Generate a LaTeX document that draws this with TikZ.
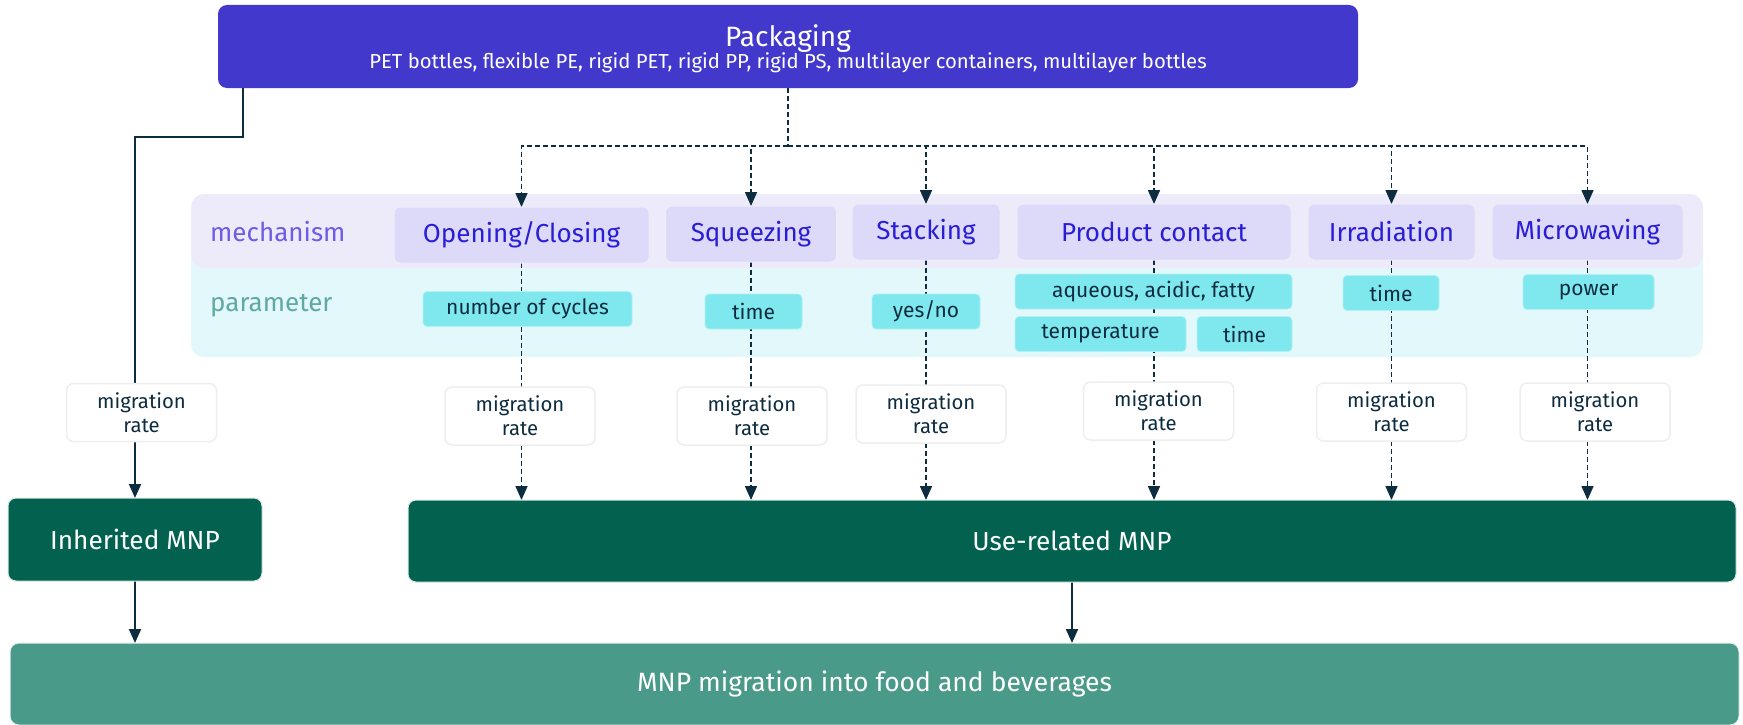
\documentclass[tikz,border=0pt]{standalone}
\usepackage{fontspec}
\setmainfont{Fira Sans}
\usetikzlibrary{arrows.meta}
\definecolor{pkgc}{HTML}{4239CC}
\definecolor{mechband}{HTML}{EDEBFA}
\definecolor{mechbox}{HTML}{DCDAF8}
\definecolor{mechtext}{HTML}{2A1DD6}
\definecolor{mechlabel}{HTML}{6C5CE6}
\definecolor{parband}{HTML}{E2F8FA}
\definecolor{parbox}{HTML}{7EE8EE}
\definecolor{parlabel}{HTML}{5FA8A6}
\definecolor{ink}{HTML}{0E2C3F}
\definecolor{dgreen}{HTML}{02624F}
\definecolor{lgreen}{HTML}{4A9A89}
\definecolor{mrborder}{HTML}{EEEEEE}
\pgfdeclarelayer{bandlayer}
\pgfdeclarelayer{linelayer}
\pgfsetlayers{bandlayer,linelayer,main}
\begin{document}
\begin{tikzpicture}[x=1pt,y=-1pt,
 box/.style={inner sep=0pt, outer sep=0pt, anchor=center},
 pkgbox/.style={box, fill=pkgc, rounded corners=9pt},
 bandbx/.style={box, rounded corners=13pt},
 mechbx/.style={box, fill=mechbox, draw=white!50!mechbox, line width=1pt, rounded corners=6pt, text=mechtext, minimum height=56pt, font=\fontsize{26}{30}\selectfont},
 parbx/.style={box, fill=parbox, draw=white!40!parbox, line width=0.8pt, rounded corners=4pt, text=ink, minimum height=35pt, font=\fontsize{21}{24}\selectfont},
 mrbx/.style={box, fill=white, draw=mrborder, line width=1.5pt, rounded corners=7pt, text=ink, align=center, minimum width=150pt, minimum height=58pt, font=\fontsize{20.3}{24}\selectfont},
 greenbx/.style={box, fill=dgreen, draw=white!85!dgreen, line width=1pt, rounded corners=8pt, text=white, font=\fontsize{26.2}{30}\selectfont},
 botbx/.style={box, fill=lgreen, draw=white!85!lgreen, line width=1pt, rounded corners=9pt, text=white, font=\fontsize{26.5}{30}\selectfont},
 bandlabel/.style={anchor=west, inner sep=0pt, font=\fontsize{26}{30}\selectfont},
 conn/.style={draw=ink, line width=2pt},
 dconn/.style={draw=ink, line width=1.6pt, dash pattern=on 5pt off 3pt},
 tip/.style={-{Triangle[length=14pt,width=12pt]}}
]
\useasboundingbox (0,0) rectangle (1743,725);
% top box
\node[pkgbox, minimum width=1140pt, minimum height=83pt] (pkg) at (788,46.5) {};
\node[anchor=base, inner sep=0pt, text=white, font=\fontsize{28}{30}\selectfont] (pkgtitle) at (788,46.5) {Packaging};
\node[anchor=base, inner sep=0pt, text=white, font=\fontsize{20.3}{24}\selectfont] (pkgsub) at (788,69) {PET bottles, flexible PE, rigid PET, rigid PP, rigid PS, multilayer containers, multilayer bottles};
% bands
\begin{pgfonlayer}{bandlayer}
\node[bandbx, fill=parband, minimum width=1512pt, minimum height=120pt] (parband) at (947,297) {};
\node[bandbx, fill=mechband, minimum width=1512pt, minimum height=74pt] (mechband) at (947,231) {};
\end{pgfonlayer}
\node[bandlabel, text=mechlabel] (mlab) at (210,232) {mechanism};
\node[bandlabel, text=parlabel] (plab) at (210,306) {parameter};
% mechanism boxes
\node[mechbx, minimum width=255pt] (m1) at (521.5,235) {Opening/Closing};
\node[mechbx, minimum width=171pt] (m2) at (751,234) {Squeezing};
\node[mechbx, minimum width=148pt] (m3) at (926,232) {Stacking};
\node[mechbx, minimum width=274pt] (m4) at (1154,232) {Product contact};
\node[mechbx, minimum width=167pt] (m5) at (1391.5,232) {Irradiation};
\node[mechbx, minimum width=191pt] (m6) at (1587.5,232) {Microwaving};
% parameter boxes
\node[parbx, minimum width=209pt] (p1) at (527.5,309) {number of cycles};
\node[parbx, minimum width=97pt] (p2) at (753.5,311.5) {time};
\node[parbx, minimum width=108pt] (p3) at (926,311.5) {yes/no};
\node[parbx, minimum width=277pt] (p4a) at (1153.5,291.5) {aqueous, acidic, fatty};
\node[parbx, minimum width=171pt] (p4b) at (1100.5,334) {temperature};
\node[parbx, minimum width=95pt] (p4c) at (1244.5,334) {time};
\node[parbx, minimum width=96pt] (p5) at (1391,293) {time};
\node[parbx, minimum width=131pt] (p6) at (1588.5,292) {power};
% migration rate boxes
\node[mrbx] (r0) at (141.5,412.5) {migration\\rate};
\node[mrbx] (r1) at (520,416) {migration\\rate};
\node[mrbx] (r2) at (752,416) {migration\\rate};
\node[mrbx] (r3) at (931,414) {migration\\rate};
\node[mrbx] (r4) at (1158.5,411) {migration\\rate};
\node[mrbx] (r5) at (1391.5,412) {migration\\rate};
\node[mrbx] (r6) at (1595,412) {migration\\rate};
% green boxes
\node[greenbx, minimum width=254pt, minimum height=83pt] (inh) at (135,539.5) {Inherited MNP};
\node[greenbx, minimum width=1328pt, minimum height=82pt] (use) at (1072,541) {Use-related MNP};
\node[botbx, minimum width=1729pt, minimum height=82pt] (bot) at (874.5,684) {MNP migration into food and beverages};
% connectors
\coordinate (bus) at (788,146);
\coordinate (k1) at (243,137);
\begin{pgfonlayer}{linelayer}
\draw[conn] (pkg.south -| k1) -- (k1) -| (inh.north |- r0.north);
\draw[conn, tip] (inh.north |- r0.south) -- (inh.north);
\draw[conn, tip] (inh.south) -- (inh.south |- bot.north);
\draw[conn, tip] (use.south) -- (use.south |- bot.north);
\draw[dconn] (pkg.south) -- (bus);
\foreach \m in {m1,m2,m3,m4,m5,m6}{
  \draw[dconn, tip] (bus) -| (\m.north);
}
\foreach \m/\r in {m1/r1,m2/r2,m3/r3,m4/r4,m5/r5,m6/r6}{
  \draw[dconn] (\m.south) -- (\m.south |- \r.north);
  \draw[dconn, tip] (\m.south |- \r.south) -- (\m.south |- use.north);
}
\end{pgfonlayer}
\end{tikzpicture}
\end{document}
